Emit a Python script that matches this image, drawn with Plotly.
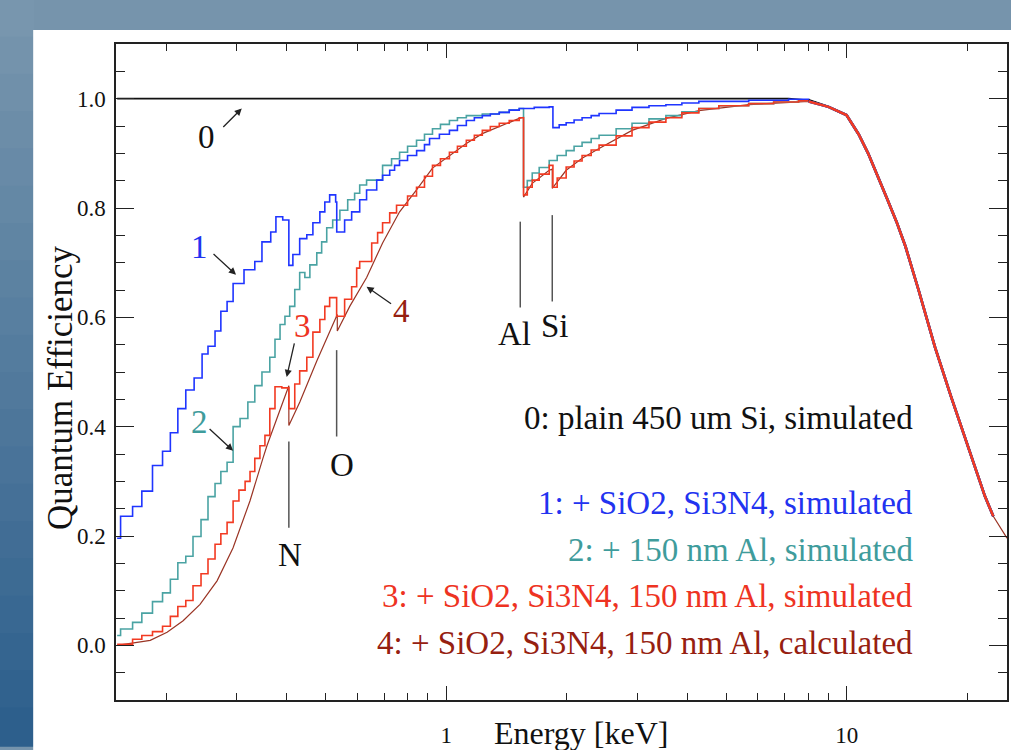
import math
import plotly.graph_objects as go

# ---------------- data ----------------
# common high-energy fall-off (all curves coincide there)
fall_e = [9.0, 9.98, 10.7, 11.3, 12.0, 12.55, 13.3, 14.0, 15.1, 16.6, 18.2, 20.1, 22.1, 23.2]
fall_qe = [0.985, 0.97, 0.935, 0.9, 0.856, 0.82, 0.775, 0.73, 0.65, 0.545, 0.455, 0.364, 0.273, 0.236]

# 0: plain 450 um Si, simulated
e0 = [0.151, 7.15, 8.03] + fall_e
qe0 = [1.0, 1.0, 0.997] + fall_qe

# 1: + SiO2, Si3N4, simulated (histogram part, below the fall-off)
e1 = [0.151, 0.154, 0.165, 0.174, 0.185, 0.196, 0.205, 0.214, 0.224, 0.235,
      0.246, 0.2545, 0.265, 0.274, 0.284, 0.294, 0.313, 0.333, 0.347, 0.365,
      0.376, 0.391, 0.405, 0.4145, 0.431, 0.449, 0.465, 0.484, 0.498, 0.512,
      0.530, 0.5333, 0.558, 0.581, 0.6085, 0.633, 0.671, 0.694, 0.723, 0.7435,
      0.765, 0.801, 0.844, 0.883, 0.909, 0.962, 1.019, 1.067, 1.123, 1.176,
      1.231, 1.289, 1.357, 1.437, 1.522, 1.659, 1.808, 1.847, 1.915, 1.993,
      2.086, 2.184, 2.301, 2.408, 2.656, 2.91, 3.208, 3.535, 3.875, 4.272,
      5.689, 7.154, 8.03]
qe1 = [0.196, 0.236, 0.254, 0.282, 0.329, 0.355, 0.389, 0.433, 0.467, 0.489,
       0.533, 0.547, 0.575, 0.611, 0.629, 0.662, 0.687, 0.702, 0.738, 0.756,
       0.784, 0.778, 0.695, 0.715, 0.744, 0.751, 0.773, 0.793, 0.811, 0.824,
       0.811, 0.756, 0.778, 0.793, 0.815, 0.833, 0.851, 0.86, 0.869, 0.878,
       0.887, 0.896, 0.905, 0.916, 0.927, 0.935, 0.942, 0.951, 0.96, 0.965,
       0.969, 0.972, 0.975, 0.979, 0.982, 0.984, 0.985, 0.947, 0.952, 0.956,
       0.961, 0.965, 0.969, 0.973, 0.979, 0.984, 0.987, 0.989, 0.992, 0.995,
       0.997, 0.999, 0.995]

# 2: + 150 nm Al, simulated (histogram part)
e2 = [0.151, 0.154, 0.165, 0.174, 0.185, 0.196, 0.205, 0.214, 0.224, 0.2335,
      0.2445, 0.2545, 0.265, 0.274, 0.284, 0.294, 0.306, 0.320, 0.333, 0.347,
      0.363, 0.374, 0.385, 0.396, 0.407, 0.419, 0.431, 0.444, 0.457, 0.4755,
      0.489, 0.5035, 0.521, 0.543, 0.568, 0.591, 0.6085, 0.633, 0.694, 0.7308,
      0.7653, 0.8012, 0.8435, 0.883, 0.9245, 0.9678, 1.019, 1.067, 1.123, 1.231,
      1.357, 1.437, 1.522, 1.56, 1.594, 1.64, 1.707, 1.808, 1.893, 1.993,
      2.086, 2.184, 2.301, 2.408, 2.656, 2.91, 3.208, 3.535, 3.875, 4.272,
      4.792, 5.689, 6.567, 7.577, 8.03]
qe2 = [0.018, 0.03, 0.042, 0.059, 0.08, 0.096, 0.121, 0.151, 0.163, 0.199,
       0.23, 0.272, 0.296, 0.318, 0.335, 0.40, 0.415, 0.445, 0.475, 0.5,
       0.527, 0.56, 0.587, 0.602, 0.62, 0.651, 0.682, 0.673, 0.696, 0.718,
       0.738, 0.764, 0.778, 0.796, 0.815, 0.827, 0.842, 0.851, 0.878, 0.89,
       0.902, 0.913, 0.924, 0.935, 0.945, 0.953, 0.96, 0.965, 0.969, 0.972,
       0.975, 0.979, 0.982, 0.838, 0.85, 0.864, 0.874, 0.887, 0.896, 0.905,
       0.913, 0.92, 0.927, 0.933, 0.945, 0.955, 0.963, 0.969, 0.976, 0.982,
       0.987, 0.991, 0.994, 0.996, 0.995]

# 3: + SiO2, Si3N4, 150 nm Al, simulated (histogram part)
e3 = [0.151, 0.165, 0.174, 0.185, 0.196, 0.205, 0.214, 0.224, 0.2335, 0.2445,
      0.2545, 0.265, 0.274, 0.284, 0.294, 0.304, 0.315, 0.324, 0.333, 0.343,
      0.353, 0.363, 0.374, 0.389, 0.405, 0.419, 0.431, 0.449, 0.465, 0.484,
      0.498, 0.512, 0.533, 0.558, 0.581, 0.598, 0.6085, 0.652, 0.6745, 0.694,
      0.723, 0.752, 0.8012, 0.8435, 0.883, 0.9245, 0.9678, 1.019, 1.067, 1.123,
      1.176, 1.231, 1.289, 1.357, 1.437, 1.522, 1.56, 1.594, 1.64, 1.707,
      1.808, 1.847, 1.893, 1.993, 2.086, 2.184, 2.301, 2.408, 2.656, 2.91,
      3.208, 3.535, 3.875, 4.272, 4.792, 5.689, 6.567, 7.577, 8.03]
qe3 = [0.002, 0.011, 0.018, 0.025, 0.035, 0.053, 0.071, 0.082, 0.109, 0.131,
       0.158, 0.185, 0.204, 0.225, 0.264, 0.284, 0.30, 0.318, 0.342, 0.365,
       0.384, 0.433, 0.473, 0.471, 0.433, 0.478, 0.502, 0.527, 0.573, 0.596,
       0.62, 0.636, 0.602, 0.633, 0.656, 0.69, 0.702, 0.736, 0.755, 0.773,
       0.791, 0.805, 0.822, 0.838, 0.858, 0.878, 0.89, 0.902, 0.913, 0.924,
       0.933, 0.942, 0.949, 0.955, 0.96, 0.965, 0.824, 0.838, 0.851, 0.862,
       0.878, 0.838, 0.855, 0.875, 0.886, 0.896, 0.906, 0.915, 0.932, 0.947,
       0.957, 0.965, 0.974, 0.982, 0.987, 0.991, 0.994, 0.996, 0.995]

# 4: + SiO2, Si3N4, 150 nm Al, calculated (smooth)
e4 = [0.151, 0.1826, 0.2012, 0.2206, 0.2431, 0.2681, 0.2938, 0.3239, 0.3489, 0.3571, 0.3781,
      0.4004, 0.405, 0.405, 0.4314, 0.4755, 0.5212, 0.535, 0.535, 0.5746, 0.6333, 0.6941,
      0.7653, 0.8435, 0.9245, 1.019, 1.123, 1.231, 1.357, 1.522, 1.56, 1.56, 1.64, 1.808,
      1.84, 1.84, 1.993, 2.184, 2.408, 2.91, 3.535, 4.272, 5.689, 7.577, 8.03] + fall_e + [25.1]
qe4 = [0.0, 0.009, 0.024, 0.045, 0.075, 0.118, 0.178, 0.264, 0.342, 0.365, 0.415,
       0.464, 0.475, 0.402, 0.445, 0.52, 0.584, 0.605, 0.575, 0.62, 0.673, 0.736,
       0.793, 0.833, 0.873, 0.896, 0.918, 0.936, 0.949, 0.964, 0.966, 0.82, 0.845, 0.869,
       0.871, 0.836, 0.869, 0.891, 0.909, 0.942, 0.964, 0.978, 0.989, 0.995, 0.995] + fall_qe + [0.196]

for a, b in [(e0, qe0), (e1, qe1), (e2, qe2), (e3, qe3), (e4, qe4), (fall_e, fall_qe)]:
    assert len(a) == len(b), (len(a), len(b))

# absorption-edge markers
edge_names = ["N", "O", "Al", "Si"]
edge_e = [0.405, 0.533, 1.531, 1.84]
edge_top = [0.373, 0.54, 0.775, 0.787]
edge_bot = [0.215, 0.382, 0.618, 0.629]
edge_lab_e = [0.407, 0.549, 1.48, 1.872]
edge_lab_qe = [0.165, 0.329, 0.569, 0.584]

legend_texts = ["0: plain 450 um Si, simulated",
                "1: + SiO2, Si3N4, simulated",
                "2: + 150 nm Al, simulated",
                "3: + SiO2, Si3N4, 150 nm Al, simulated",
                "4: + SiO2, Si3N4, 150 nm Al, calculated"]
legend_qe = [0.416, 0.26, 0.175, 0.091, 0.005]

C_BLACK = "#111111"
C_BLUE = "#1f35ff"
C_TEAL = "#4aa3a3"
C_RED = "#f23a22"
C_BROWN = "#9a3424"
T_BLUE = "#2233f0"
T_TEAL = "#3f9c9c"
T_RED = "#ee3322"
T_BROWN = "#962010"
colors_text = [C_BLACK, T_BLUE, T_TEAL, T_RED, T_BROWN]

# curve number labels and arrows
num_lab = ["0", "1", "2", "3", "4"]
num_e = [0.253, 0.243, 0.243, 0.439, 0.774]
num_qe = [0.929, 0.729, 0.409, 0.584, 0.611]
arr_e = [0.309, 0.299, 0.294, 0.400, 0.633]
arr_qe = [0.982, 0.678, 0.356, 0.491, 0.656]
arr_ax = [-20, -24, -25, 8, 26]
arr_ay = [20, -22, -23, -35, 18]

SERIF = "Liberation Serif, Times New Roman, serif"
FS = 33

fig = go.Figure()
fig.add_trace(go.Scatter(x=e4, y=qe4, mode="lines", line=dict(color=C_BROWN, width=1.2)))
fig.add_trace(go.Scatter(x=e0, y=qe0, mode="lines", line=dict(color=C_BLACK, width=1.6)))
fig.add_trace(go.Scatter(x=e2, y=qe2, mode="lines", line=dict(color=C_TEAL, width=1.6, shape="hv")))
fig.add_trace(go.Scatter(x=e1, y=qe1, mode="lines", line=dict(color=C_BLUE, width=1.6, shape="hv")))
fig.add_trace(go.Scatter(x=e3, y=qe3, mode="lines", line=dict(color=C_RED, width=1.6, shape="hv")))
# noisy simulated fall-off region drawn as a thicker band
for ee, qq, col in [(e0, qe0, C_BLACK), (e2, qe2, C_TEAL), (e1, qe1, C_BLUE), (e3, qe3, C_RED)]:
    fig.add_trace(go.Scatter(x=[8.03] + fall_e, y=[qq[ee.index(8.03)]] + fall_qe, mode="lines",
                             line=dict(color=col, width=2.6)))

for i in range(len(edge_names)):
    fig.add_trace(go.Scatter(x=[edge_e[i], edge_e[i]], y=[edge_top[i], edge_bot[i]], mode="lines",
                             line=dict(color="#555555", width=1.5)))

annotations = []
for i in range(len(edge_names)):
    annotations.append(dict(x=math.log10(edge_lab_e[i]), y=edge_lab_qe[i], xref="x", yref="y",
                            text=edge_names[i], showarrow=False,
                            font=dict(family=SERIF, size=FS, color="#111111")))
for i in range(len(num_lab)):
    annotations.append(dict(x=math.log10(num_e[i]), y=num_qe[i], xref="x", yref="y",
                            text=num_lab[i], showarrow=False,
                            font=dict(family=SERIF, size=FS, color=colors_text[i])))
    annotations.append(dict(x=math.log10(arr_e[i]), y=arr_qe[i], xref="x", yref="y",
                            text="", showarrow=True, ax=arr_ax[i], ay=arr_ay[i],
                            arrowhead=2, arrowsize=1.1, arrowwidth=1.3, arrowcolor="#222222",
                            standoff=0, startstandoff=0))
for i in range(len(legend_texts)):
    annotations.append(dict(x=0.897, y=legend_qe[i], xref="paper", yref="y", xanchor="right",
                            yanchor="middle", text=legend_texts[i], showarrow=False,
                            font=dict(family=SERIF, size=FS, color=colors_text[i])))
annotations.append(dict(x=(582 - 116) / 893, y=(704 - 737) / 660, xref="paper", yref="paper",
                        text="Energy [keV]", showarrow=False, xanchor="center", yanchor="middle",
                        font=dict(family=SERIF, size=32, color="#111111")))
annotations.append(dict(x=(61 - 116) / 893, y=(704 - 390) / 660, xref="paper", yref="paper",
                        text="Quantum Efficiency", textangle=-90, showarrow=False,
                        xanchor="center", yanchor="middle",
                        font=dict(family=SERIF, size=35, color="#111111")))

# background: blue gradient frame with a white sheet
W, H = 1011, 750
L, T, PW, PH = 116, 44, 893, 660


def px_x(px):
    return (px - L) / PW


def px_y(py):
    return (T + PH - py) / PH


shapes = []
top_rgb = (122, 152, 175)
bot_rgb = (44, 94, 140)
nb = 20
for k in range(nb):
    f = (k + 0.5) / nb
    c = tuple(int(top_rgb[j] + (bot_rgb[j] - top_rgb[j]) * f) for j in range(3))
    shapes.append(dict(type="rect", xref="paper", yref="paper", layer="below",
                       x0=px_x(-2), x1=px_x(34), y0=px_y(H * (k + 1) / nb + 1), y1=px_y(H * k / nb - 1),
                       line=dict(width=0), fillcolor="rgb(%d,%d,%d)" % c))
shapes.append(dict(type="rect", xref="paper", yref="paper", layer="below",
                   x0=px_x(33), x1=px_x(W + 5), y0=px_y(H + 5), y1=px_y(30),
                   line=dict(width=0), fillcolor="white"))

minor_x = [0.2, 0.3, 0.4, 0.5, 0.6, 0.7, 0.8, 0.9, 2, 3, 4, 5, 6, 7, 8, 9, 20]
minor_y = [-0.05, 0.05, 0.1, 0.15, 0.25, 0.3, 0.35, 0.45, 0.5, 0.55, 0.65, 0.7, 0.75,
           0.85, 0.9, 0.95, 1.05]

fig.update_layout(
    width=W, height=H,
    margin=dict(l=L, r=W - L - PW, t=T, b=H - T - PH),
    paper_bgcolor="rgb(118,148,172)",
    plot_bgcolor="rgba(0,0,0,0)",
    showlegend=False,
    shapes=shapes,
    annotations=annotations,
    xaxis=dict(type="log", range=[math.log10(0.15), math.log10(25.1)],
               tickvals=[1, 10], ticktext=["1", "10"],
               ticks="inside", ticklen=14, tickwidth=1.3, tickcolor="#222222",
               minor=dict(tickmode="array", tickvals=minor_x, ticks="inside", ticklen=7,
                          tickwidth=1.3, tickcolor="#222222", showgrid=False),
               showline=True, linecolor="#222222", linewidth=1.5, mirror="ticks",
               showgrid=False, zeroline=False, ticklabelstandoff=14,
               tickfont=dict(family=SERIF, size=23, color="#111111")),
    yaxis=dict(range=[-0.1, 1.1],
               tickvals=[0, 0.2, 0.4, 0.6, 0.8, 1.0],
               ticktext=["0.0", "0.2", "0.4", "0.6", "0.8", "1.0"],
               ticks="inside", ticklen=18, tickwidth=1.3, tickcolor="#222222",
               minor=dict(tickmode="array", tickvals=minor_y, ticks="inside", ticklen=9,
                          tickwidth=1.3, tickcolor="#222222", showgrid=False),
               showline=True, linecolor="#222222", linewidth=1.5, mirror="ticks",
               showgrid=False, zeroline=False, ticklabelstandoff=4,
               tickfont=dict(family=SERIF, size=23, color="#111111")),
)

fig.write_html("out.html", config={"displayModeBar": False},
               post_script="document.body.style.margin='0';")
